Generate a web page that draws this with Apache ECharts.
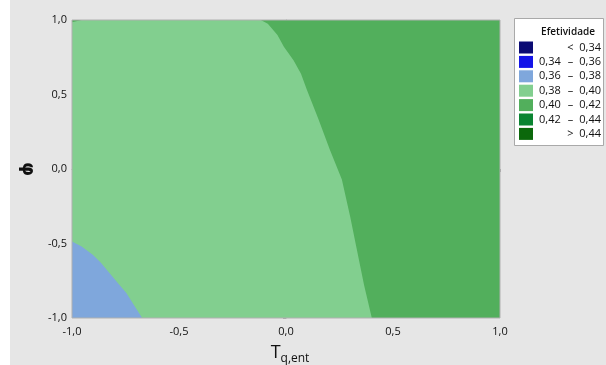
<!DOCTYPE html>
<html>
<head>
<meta charset="utf-8">
<script src="https://cdn.jsdelivr.net/npm/echarts@6/dist/echarts.min.js"></script>
<style>
  html, body { margin: 0; padding: 0; background: #ffffff; }
  #chart { width: 606px; height: 365px; }
</style>
</head>
<body>
<div id="chart"></div>
<script>
// Contour bands of effectiveness over (T_q,ent, phi)
const xTicks = [-1.0, -0.5, 0.0, 0.5, 1.0];
const yTicks = [-1.0, -0.5, 0.0, 0.5, 1.0];

// Band boundaries in data coordinates [T_q,ent, phi]
const band3840Region = [[-1, -1], [1, -1], [1, 1], [-1, 1]];
const band4042Edge = [
  [-0.118, 1.0], [-0.085, 0.975], [-0.040, 0.900], [-0.010, 0.820],
  [0.035, 0.730], [0.070, 0.640], [0.097, 0.533], [0.150, 0.340],
  [0.205, 0.130], [0.261, -0.071], [0.300, -0.320], [0.331, -0.541],
  [0.365, -0.780], [0.401, -1.0]
];
const band4042Corner = [[-1, 1], [-0.955, 1], [-1, 0.985]];
const band3638Edge = [
  [-1, -0.486], [-0.955, -0.520], [-0.903, -0.575], [-0.865, -0.630],
  [-0.825, -0.698], [-0.786, -0.765], [-0.746, -0.832], [-0.710, -0.915],
  [-0.672, -1.0]
];

// Legend of the contour levels
const legendTitle = 'Efetividade';
const legendLow = ['', '0,34', '0,36', '0,38', '0,40', '0,42', ''];
const legendMid = ['<', '–', '–', '–', '–', '–', '>'];
const legendHigh = ['0,34', '0,36', '0,38', '0,40', '0,42', '0,44', '0,44'];
const legendPalette = ['#0b0b74', '#1414e8', '#7fa7dc', '#82cf8f', '#52af5c', '#0a8431', '#0b680b'];

const regions = [
  { points: band3840Region, band: 3 },
  { points: band4042Edge.concat([[1, -1], [1, 1]]), band: 4 },
  { points: band4042Corner, band: 4 },
  { points: band3638Edge.concat([[-1, -1]]), band: 2 }
];

const fmt = v => v.toFixed(1).replace('.', ',');
const font = '"Open Sans", "Noto Sans", sans-serif';
const ink = '#111111';

const legendGraphics = [
  { type: 'rect', shape: { x: 10, y: 0, width: 596, height: 365 }, style: { fill: '#e6e6e6' }, z: -10 },
  { type: 'rect', shape: { x: 514.5, y: 18.5, width: 89, height: 127 },
    style: { fill: '#ffffff', stroke: '#a9a9a9', lineWidth: 1 } },
  { type: 'text', x: 568, y: 32, style: { text: legendTitle, fill: ink, font: '600 10px ' + font,
    textAlign: 'center', textVerticalAlign: 'middle' } }
];
legendPalette.forEach((c, i) => {
  const cy = 47.5 + i * 14.4;
  legendGraphics.push({ type: 'rect', shape: { x: 519, y: cy - 6, width: 14, height: 12 }, style: { fill: c } });
  if (legendLow[i]) {
    legendGraphics.push({ type: 'text', x: 539, y: cy, style: { text: legendLow[i], fill: ink,
      font: '11px ' + font, textAlign: 'left', textVerticalAlign: 'middle' } });
  }
  legendGraphics.push({ type: 'text', x: 570.5, y: cy, style: { text: legendMid[i], fill: ink,
    font: '11px ' + font, textAlign: 'center', textVerticalAlign: 'middle' } });
  legendGraphics.push({ type: 'text', x: 601, y: cy, style: { text: legendHigh[i], fill: ink,
    font: '11px ' + font, textAlign: 'right', textVerticalAlign: 'middle' } });
});

const chart = echarts.init(document.getElementById('chart'), null, { renderer: 'canvas' });
chart.setOption({
  animation: false,
  backgroundColor: '#ffffff',
  textStyle: { fontFamily: font },
  grid: { left: 72, right: 106, top: 20, bottom: 47, show: true, borderColor: '#b0b0b0', borderWidth: 1,
    backgroundColor: 'transparent', z: 5, outerBoundsMode: 'none', containLabel: false },
  xAxis: {
    type: 'value', min: xTicks[0], max: xTicks[xTicks.length - 1], interval: 0.5,
    splitLine: { show: false },
    axisLine: { show: true, lineStyle: { color: '#a8a8a8' } },
    axisTick: { show: true, length: 3, lineStyle: { color: '#a8a8a8' } },
    axisLabel: { formatter: fmt, color: ink, fontSize: 11, fontWeight: 500, margin: 8 },
    name: '{t|T}{s|q,ent}', nameLocation: 'middle', nameGap: 26,
    nameTextStyle: {
      padding: [0, 0, 0, 8],
      rich: {
        t: { fontSize: 18, color: ink, fontFamily: font, verticalAlign: 'bottom' },
        s: { fontSize: 12, color: ink, fontFamily: font, verticalAlign: 'bottom', padding: [0, 0, -3, 0] }
      }
    }
  },
  yAxis: {
    type: 'value', min: yTicks[0], max: yTicks[yTicks.length - 1], interval: 0.5,
    splitLine: { show: false },
    axisLine: { show: true, lineStyle: { color: '#a8a8a8' } },
    axisTick: { show: true, length: 3, lineStyle: { color: '#a8a8a8' } },
    axisLabel: { formatter: fmt, color: ink, fontSize: 11, fontWeight: 500, margin: 5 },
    name: 'φ', nameLocation: 'middle', nameGap: 35, nameRotate: -90,
    nameTextStyle: { fontSize: 18, fontWeight: 'bold', color: ink, fontFamily: '"DejaVu Sans", sans-serif' }
  },
  graphic: legendGraphics,
  series: [{
    type: 'custom',
    coordinateSystem: 'cartesian2d',
    data: regions.map((r, i) => [i]),
    encode: { x: -1, y: -1 },
    renderItem: (params, api) => {
      const region = regions[params.dataIndex];
      return {
        type: 'polygon',
        shape: { points: region.points.map(p => api.coord(p)) },
        style: { fill: legendPalette[region.band], stroke: null }
      };
    },
    clip: true,
    silent: true
  }]
});
</script>
</body>
</html>
